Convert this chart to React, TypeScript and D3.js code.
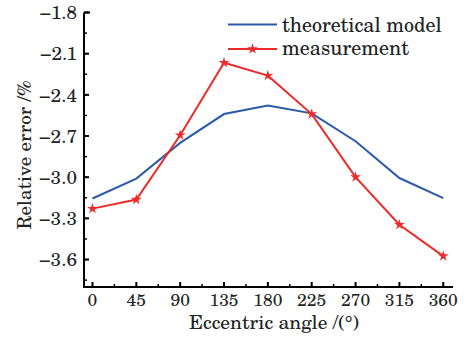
import React from "react";
import * as d3 from "d3";

const angles = [0, 45, 90, 135, 180, 225, 270, 315, 360];
const theoretical = [-3.155, -3.01, -2.75, -2.54, -2.477, -2.535, -2.738, -3.006, -3.152];
const measurement = [-3.229, -3.163, -2.694, -2.166, -2.26, -2.54, -2.999, -3.346, -3.575];
const yTicks = [-3.6, -3.3, -3.0, -2.7, -2.4, -2.1, -1.8];
const xTicks = [0, 45, 90, 135, 180, 225, 270, 315, 360];
const legendLabels = ["theoretical model", "measurement"];

const W = 473, H = 338;
const left = 84, right = 453, top = 12.5, bottom = 287;

export default function App() {
  const x = d3.scaleLinear().domain([-8.7, 370]).range([left, right]);
  const y = d3.scaleLinear().domain([-3.8, -1.8]).range([bottom, top]);
  const fontStyle = { fontFamily: "'TeX Gyre Schola', 'DejaVu Serif', serif" };
  const line = d3.line<number>().x((_, i) => x(angles[i])).y((d) => y(d));
  const star = d3.symbol().type(d3.symbolStar).size(36)();
  const yMinor = d3.range(-3.75, -1.8, 0.15);
  const xMinor = d3.range(22.5, 370, 45);
  const blue = "#2b5aa8";
  const red = "#ee2b2b";
  const textFill = "#222";
  return (
    <svg width={W} height={H} style={{ position: "absolute", left: 0, top: 0 }}>
      <rect width={W} height={H} fill="#fff" />
      {/* axes */}
      <path d={`M${left},${top} L${left},${bottom} L${right},${bottom}`} fill="none" stroke="#000" strokeWidth={2} />
      <line x1={left} x2={left + 6} y1={top} y2={top} stroke="#000" strokeWidth={2} />
      {yTicks.map((t) => (
        <g key={t}>
          <line x1={left} x2={left + 5} y1={y(t)} y2={y(t)} stroke="#000" strokeWidth={2} />
          <text x={77} y={y(t) + 6.8} textAnchor="end" style={fontStyle} fontSize={19} fill={textFill}>
            {"\u2212" + Math.abs(t).toFixed(1)}
          </text>
        </g>
      ))}
      {yMinor.map((t) => (
        <line key={"ym" + t} x1={left} x2={left + 3} y1={y(t)} y2={y(t)} stroke="#000" strokeWidth={1.5} />
      ))}
      {xTicks.map((t) => (
        <g key={t}>
          <line x1={x(t)} x2={x(t)} y1={bottom} y2={bottom - 5} stroke="#000" strokeWidth={2} />
          <text x={x(t)} y={306} textAnchor="middle" style={fontStyle} fontSize={17.5} fill={textFill}>
            {t}
          </text>
        </g>
      ))}
      {xMinor.map((t) => (
        <line key={"xm" + t} x1={x(t)} x2={x(t)} y1={bottom} y2={bottom - 3} stroke="#000" strokeWidth={1.5} />
      ))}
      {/* axis titles */}
      <text x={274} y={328.5} textAnchor="middle" style={fontStyle} fontSize={19.5} fill={textFill}>
        Eccentric angle /(°)
      </text>
      <text transform={`translate(31,155) rotate(-90)`} textAnchor="middle" style={fontStyle} fontSize={19} fill={textFill}>
        Relative error /%
      </text>
      {/* series */}
      <path d={line(theoretical) || ""} fill="none" stroke={blue} strokeWidth={2} />
      <path d={line(measurement) || ""} fill="none" stroke={red} strokeWidth={2} />
      {measurement.map((v, i) => (
        <path key={i} d={star || ""} transform={`translate(${x(angles[i])},${y(v)})`} fill={red} />
      ))}
      {/* legend */}
      <line x1={228} x2={277} y1={24.5} y2={24.5} stroke={blue} strokeWidth={2} />
      <text x={282} y={31.5} style={fontStyle} fontSize={20} fill={textFill}>{legendLabels[0]}</text>
      <line x1={228} x2={277} y1={49} y2={49} stroke={red} strokeWidth={2} />
      <path d={star || ""} transform={`translate(252.5,49)`} fill={red} />
      <text x={282} y={55} style={fontStyle} fontSize={20} fill={textFill}>{legendLabels[1]}</text>
    </svg>
  );
}
